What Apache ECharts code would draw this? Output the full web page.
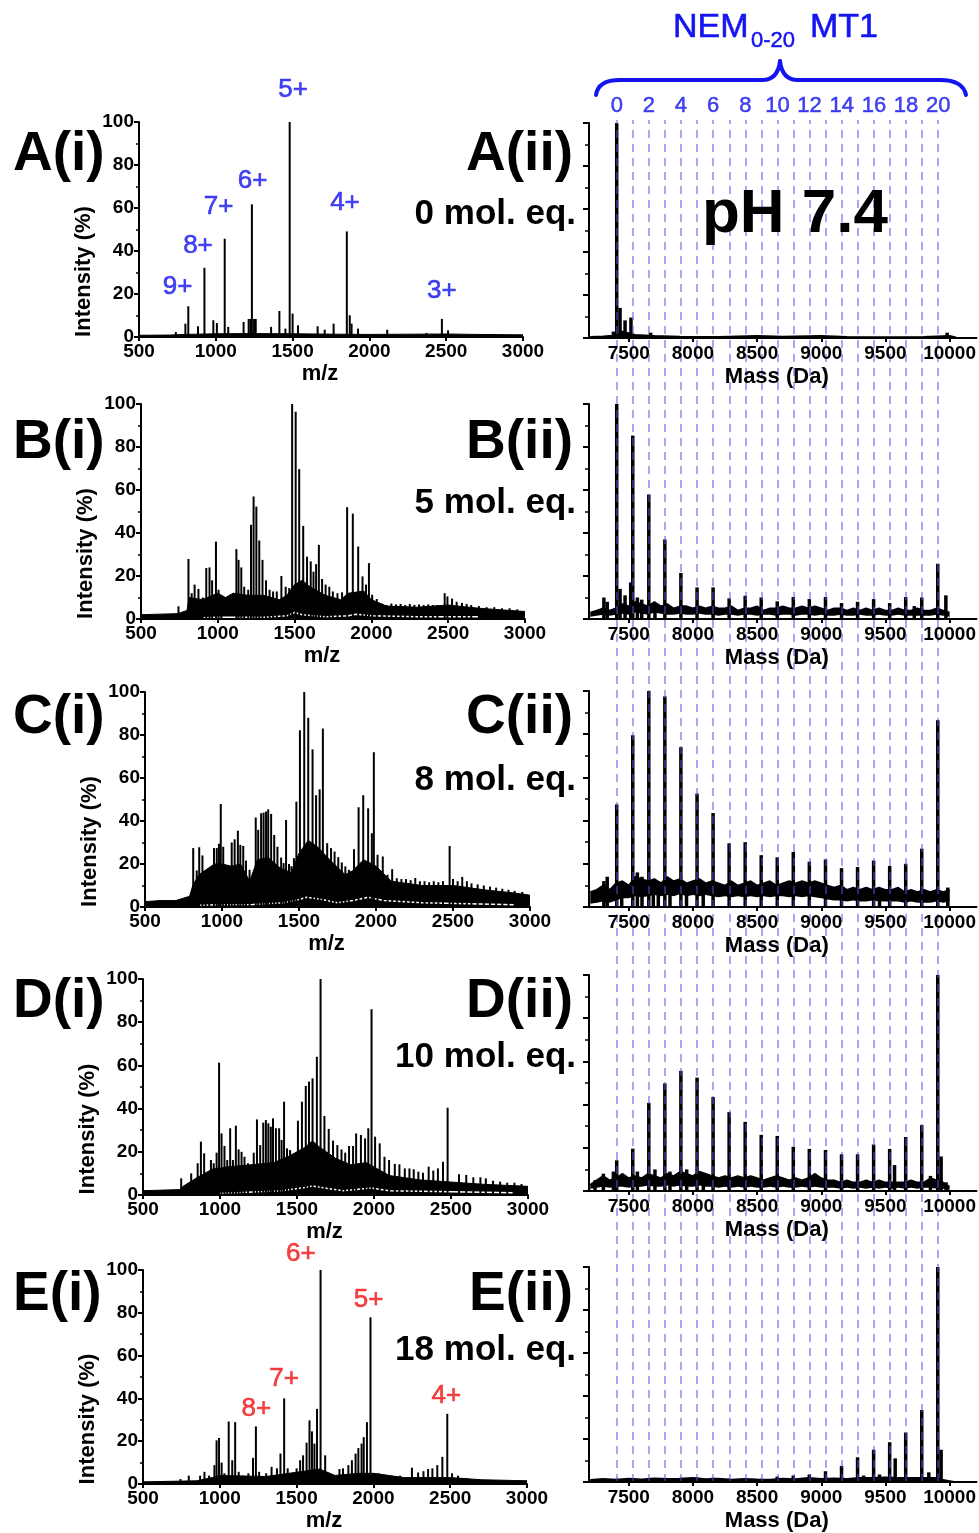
<!DOCTYPE html>
<html><head><meta charset="utf-8">
<script src="https://cdn.jsdelivr.net/npm/echarts@6/dist/echarts.min.js"></script>
<style>html,body{margin:0;padding:0;background:#fff}#c{width:979px;height:1533px}</style>
</head><body><div id="c"></div>
<script>
// ================= DATA =================
// Left column: ESI-MS m/z spectra (intensity %)
const aiPeaks = [[740,2.3],[802,6.2],[821,14.3],[884,5],[926,32.2],[984,7.8],[1007,6.5],[1058,45.7],[1081,4.7],[1181,7],[1214,8.4],[1226,8.4],[1235,61.7],[1249,8.4],[1260,8.4],[1360,4.7],[1414,12.1],[1453,3.9],[1481,100],[1500,10.9],[1535,5.4],[1663,5],[1709,3.4],[1767,6.2],[1853,49.1],[1872,10.1],[1884,6.2],[1926,3.9],[2116,3.4],[2372,1.9],[2472,8.4],[2512,3.1]];
const aiBand = [[500,0.8],[700,0.9],[800,1.2],[1000,1.5],[1200,1.6],[1500,1.5],[1800,1.3],[2000,1.2],[2500,1.4],[2700,1.2],[3000,1]];
const aiCharges = [['9+',751,23.4],['8+',884,42.5],['7+',1018,60.6],['6+',1239,72.7],['5+',1503,114.9],['4+',1841,62.5],['3+',2471,21.5]];

const biPeaks = [[744,5.9],[809,27.9],[830,12],[849,16],[874,14],[902,10],[925,23.7],[946,24],[963,18],[988,36],[1005,13.6],[1023,10.5],[1121,32.5],[1135,27.5],[1153,24],[1172,15],[1198,13.6],[1216,43.8],[1233,57],[1251,52.3],[1270,36.5],[1291,27.5],[1314,18],[1337,13.6],[1360,12.8],[1384,12.8],[1414,20],[1442,15],[1465,14.4],[1484,100],[1507,96.4],[1530,69.7],[1556,43.3],[1581,29],[1605,26.8],[1623,22],[1640,25.5],[1658,34.5],[1679,18.6],[1702,16],[1726,15],[1749,12.8],[1779,12],[1809,12.4],[1842,52],[1879,49],[1914,33.7],[1942,19.8],[1965,16],[1984,26],[2005,11.3],[2035,9.3],[2070,7],[2100,6.5],[2130,7.2],[2160,6.8],[2190,7],[2220,6.5],[2250,7],[2280,6.6],[2310,6.8],[2340,6.5],[2370,6.8],[2400,6.5],[2430,6.5],[2477,12],[2495,10.5],[2525,9.5],[2555,8],[2590,7.5],[2620,7],[2650,6.5],[2700,6],[2750,5.5],[2800,5.5],[2850,5],[2900,5],[2950,4.5]];
const biBand = [[500,2],[740,2.5],[800,4],[812,10],[900,9],[1000,12],[1050,10],[1100,12],[1200,11],[1300,11],[1400,9],[1450,11],[1500,16],[1550,18],[1600,15],[1700,11],[1800,9],[1850,12],[1950,13],[2000,9],[2100,6],[2300,5.5],[2500,6.5],[2700,5],[3000,3.5]];
const biInner = [[900,0.6],[1000,0.8],[1300,0.8],[1450,1.5],[1500,3],[1550,2],[1700,1],[1850,1.5],[1900,2.2],[2000,1.5],[2300,1],[2700,1]];

const ciPeaks = [[813,27.4],[836,17],[852,27.8],[873,24],[894,17],[917,13.4],[948,27.4],[966,27.4],[980,29.4],[992,47.9],[1008,28],[1026,18.9],[1045,15],[1063,30],[1082,31.5],[1103,35.5],[1119,28.9],[1138,28.4],[1156,21.6],[1179,17.3],[1219,41.6],[1235,35.9],[1254,43.6],[1270,43.9],[1286,44.4],[1300,45.4],[1319,43.3],[1339,33.5],[1360,28],[1384,23],[1400,20.4],[1416,40.5],[1435,20],[1451,19],[1467,22.7],[1483,49],[1506,82.2],[1534,100],[1560,88],[1588,73.3],[1611,52],[1634,54.7],[1655,83],[1683,29.7],[1708,27.4],[1731,25.8],[1755,23.2],[1778,20.7],[1801,18.9],[1824,17.3],[1857,26.9],[1887,46.4],[1917,52],[1949,45.9],[1973,34.3],[1986,72],[2010,24.3],[2044,23.5],[2075,15],[2105,17.6],[2135,13.4],[2165,13],[2195,13],[2225,12.5],[2255,13.5],[2285,12],[2315,12],[2345,11.5],[2375,12],[2405,11.5],[2435,12],[2478,28.4],[2500,13],[2530,12],[2560,14],[2590,12],[2620,11],[2660,10.5],[2700,10],[2740,9.5],[2780,9],[2820,8.5],[2860,8],[2900,7.5],[2950,7]];
const ciBand = [[500,2.5],[600,3],[700,3],[790,5],[810,10],[850,15],[950,20],[1000,20],[1060,19],[1120,20],[1180,12],[1230,22],[1300,23],[1380,18],[1450,16],[1500,25],[1560,31],[1620,28],[1700,22],[1800,15],[1850,17],[1920,22],[2000,19],[2100,12],[2300,10],[2500,10],[2700,8],[2900,6.5],[3000,5.5]];
const ciInner = [[850,0.8],[1000,1],[1200,1.2],[1400,2],[1500,3.5],[1550,4.5],[1650,3.5],[1750,2],[1850,3],[1950,4.5],[2050,3],[2300,2],[2600,1.5],[2900,1]];

const diPeaks = [[748,7.7],[778,3.9],[813,10],[839,6.2],[855,14.7],[876,24.7],[897,19.3],[922,10],[941,16.2],[959,14.7],[978,19.6],[994,61.3],[1010,28.5],[1029,22.7],[1047,16.2],[1066,30.9],[1084,16.2],[1103,32.1],[1121,21.1],[1140,20],[1159,17.7],[1182,14.7],[1219,19.6],[1240,35],[1261,23.1],[1281,33.5],[1298,34.7],[1314,33.2],[1330,31.6],[1344,35.5],[1363,30.9],[1384,30.9],[1400,25.5],[1416,43.2],[1435,21.6],[1455,20.8],[1479,19.3],[1506,34.4],[1532,43.2],[1557,50.5],[1578,52.5],[1601,54],[1629,64],[1653,100],[1678,36.6],[1706,30.6],[1734,25.2],[1762,23.1],[1789,21.1],[1813,19.6],[1838,22.7],[1864,22.7],[1884,28.5],[1915,27.8],[1942,26.2],[1963,30.9],[1984,86],[2007,27],[2037,23.9],[2068,17.7],[2098,16.2],[2135,14.4],[2165,14.2],[2200,12.3],[2230,12.3],[2258,11.9],[2288,10.8],[2318,10.3],[2355,13.1],[2385,11.3],[2415,12.3],[2448,15.4],[2478,40.4],[2552,9.6],[2599,9.3],[2645,8.2],[2691,8.2],[2726,7.7],[2773,6.6],[2819,6.2],[2865,5.7],[2912,5.7],[2958,5.1]];
const diBand = [[500,2],[740,2.5],[760,4],[850,8],[950,12],[1050,13],[1200,14],[1350,15],[1450,18],[1550,22],[1600,25],[1650,22],[1750,17],[1850,14],[1950,15],[2000,13],[2100,9],[2300,7],[2500,6],[2700,5],[3000,4]];
const diInner = [[1000,0.8],[1100,1],[1400,2],[1550,3.5],[1600,4.2],[1700,3],[1800,2],[1980,3.2],[2100,2],[2500,1.5],[2900,1]];

const eiPeaks = [[744,2.3],[798,3.9],[872,3.9],[900,5.7],[930,3.9],[965,8.8],[979,20.4],[995,21.5],[1012,10],[1030,5],[1058,29.2],[1081,11.1],[1100,28.9],[1123,5.7],[1151,3.9],[1186,5],[1216,12.2],[1235,26.9],[1256,5.7],[1302,5],[1337,8],[1372,7.3],[1395,14.2],[1419,40],[1442,7.3],[1500,7.3],[1523,11.1],[1542,13.4],[1565,19.3],[1584,29.7],[1600,24.6],[1616,18.9],[1633,35.1],[1656,100],[1686,13.4],[1779,7],[1802,7.3],[1837,8.8],[1860,11.1],[1884,14.2],[1902,16.8],[1923,18.9],[1937,21.9],[1958,28.9],[1981,77.9],[2007,5],[2035,5],[2174,3.9],[2251,7.6],[2291,5.4],[2326,6],[2356,7],[2384,7.3],[2416,8.8],[2449,12.7],[2481,32.8],[2512,5],[2551,3.9],[2616,2.6]];
const eiBand = [[500,1],[850,1.5],[950,3],[1000,4],[1300,3.5],[1450,5],[1550,6],[1650,7],[1750,4],[1900,5],[2000,5],[2200,3],[2500,3],[2700,2],[3000,1.5]];
const eiCharges = [['8+',1238,35.2],['7+',1418,49.1],['6+',1527,107.4],['5+',1969,86.1],['4+',2475,41.3]];

// Right column: deconvoluted mass spectra
const nemCounts = [0,1,2,3,4,5,6,7,8,9,10,11,12,13,14,15,16,17,18,19,20];
const nemMass = [7406,7531,7656,7781,7906,8032,8157,8282,8407,8532,8657,8782,8907,9033,9158,9283,9408,9533,9658,9783,9908];
const nemLabelCounts = [0,2,4,6,8,10,12,14,16,18,20];
const massTicks = [7500,8000,8500,9000,9500,10000];

const aiiMain = [100,1,0.8,0.6,0.5,0.5,0.5,0.5,0.6,0.8,0.6,0.5,0.6,0.8,0.5,0.4,0.4,0.4,0.4,0.4,0.5];
const aiiExtra = [[7380,3],[7432,14],[7471,8.2],[7517,9.5],[7670,2.5],[9981,2.5]];
const aiiBase = [[7200,0.6],[7300,0.8],[7380,1.2],[7450,3],[7550,1.5],[7700,1],[7900,0.7],[8200,0.6],[8500,1],[8700,0.7],[9000,1],[9200,0.6],[9500,0.5],[9800,0.6],[10000,1],[10050,0.3]];

const biiMain = [100,85.3,57.9,37,21.4,14.7,14.7,9.6,10.8,10,8.2,10.2,9.3,10.2,7.4,8,9.3,7.4,10.2,10,25.7];
const biiExtra = [[7306,10],[7332,8],[7432,14],[7471,11],[7515,17],[7567,10],[7601,9],[7704,7],[9725,6],[9971,11]];
const ciiMain = [47.5,79.5,100,97.5,74,52.5,43.5,29.5,30,24,23,25.5,21,22,18,18.5,21.5,19,20,27,86.5];
const ciiExtra = [[7306,12],[7332,14],[7445,10],[7567,16],[7603,14],[7691,13],[7730,12],[7821,11],[7950,10],[8080,9],[9454,6],[9986,9]];
const diiMain = [14.2,19.6,40.8,49.8,55.6,52.5,43.5,36.5,32,26,25.5,20.5,19.5,19,17,17,21.5,19.5,25,30.5,100];
const diiExtra = [[7237,5],[7302,8],[7380,9],[7567,9],[7704,10],[7821,9],[7951,10],[8081,8],[9571,12],[9851,7],[9934,16],[9973,4]];
const eiiMain = [1.5,1.5,1.5,1.5,2,2,2,1.5,1.5,1.5,2.5,3,3.5,5,7.5,11.5,15,18.5,23,33.5,100];
const eiiExtra = [[9330,3],[9454,3.5],[9576,11],[9838,4.5],[9934,15]];
const eiiBase = [[7200,1],[7300,1.5],[7400,1.2],[7500,1.6],[7600,1.3],[7700,1.8],[7800,1.5],[7900,1.6],[8000,2],[8100,1.4],[8200,1.6],[8300,1.2],[8400,1.5],[8500,1.3],[8600,1.2],[8700,1.6],[8800,1.4],[8900,2],[9000,1.5],[9100,1.8],[9200,1.5],[9300,2],[9400,2],[9500,2.2],[9600,2],[9700,2],[9800,2],[9900,2],[9950,1],[10000,0.5],[10030,0.2]];

// noise band sampled every 50 Da from 7200 to 10000 (upper / lower edge, %)
const bandStart = 7200, bandStep = 50;
const biiHi = [3,4,5,4,5,7,6,8,7,6,8,6,7,5,6,6,5,6,5,6,5,5,6,4,5,5,6,4,5,5,6,5,5,6,5,6,5,4,5,5,4,5,4,5,4,5,4,4,5,4,4,5,4,4,5,4,3];
const biiLo = [1,1.5,2,1.5,2,2.5,2,3,2.5,2,3,2.5,2,2,2.5,2,2,2.5,2,2,1.5,2,2,1.5,2,2,1.5,2,2,1.5,2,2,1.5,2,2,1.5,2,1.5,1.5,2,1.5,1.5,2,1.5,1.5,2,1.5,1.5,2,1.5,1.5,1.5,1.5,1.5,2,1.5,1];
const ciiHi = [7,8,10,8,11,12,10,14,13,12,13,11,14,12,13,11,12,13,11,12,11,10,12,10,11,12,10,11,12,10,11,12,11,12,11,12,11,10,9,10,8,9,8,9,8,9,8,8,9,7,8,7,8,7,8,7,8];
const ciiLo = [1.5,2,2.5,2,3,4,4,5,4.5,5,5.5,5,5.5,5,6,5,5.5,5,5.5,5,4.5,5,4.5,5,4.5,5,4.5,5,4.5,5,5,4.5,5,4.5,5,4.5,4,3.5,3,3,2.5,3,2.5,2.5,3,2.5,2.5,2.5,2.5,2,2.5,2,2,2,2.5,2,2.5];
const diiHi = [3,5,7,5,6,8,6,7,6,8,7,6,8,7,9,8,7,9,8,7,6,7,6,7,6,7,6,5,6,7,6,5,6,5,6,8,6,5,5,4,5,4,4,5,4,5,4,4,4,4,5,4,4,6,5,4,2];
const diiLo = [1,1.5,2,1.5,2,2,1.5,2,2,2.5,2,2,2.5,2,2.5,2,2,2.5,2,2,1.5,2,1.5,2,1.5,2,1.5,1.5,2,1.5,2,1.5,1.5,2,1.5,2,1.5,1.5,1.5,1,1.5,1,1.5,1,1.5,1,1.5,1,1.5,1,1.5,1,1.5,1.5,1,1,0.5];

const panelLetters = ['A','B','C','D','E'];
const molEq = ['0 mol. eq.','5 mol. eq.','8 mol. eq.','10 mol. eq.','18 mol. eq.'];

// ================= LAYOUT / STYLE =================
const FONT = "'Liberation Sans', Arial, Helvetica, sans-serif";
const BLUE = '#1414f0', RED = '#f01414';
const leftGrid = [[139,122,384,215],[141,404,384,215],[145,692,385,215],[143,979,385,216],[143,1270,384,216]];
const rightGrid = [[123,215],[404,215],[691,216],[975,216],[1267,215]];
const RL = 589, RW = 388, RMIN = 7190, RMAX = 10210;
const rowTextY = [[155,214],[443,503],[718,780],[1002,1057],[1295,1350]];

const leftData = [
  {peaks: aiPeaks, band: aiBand, inner: null, charges: aiCharges, color: BLUE},
  {peaks: biPeaks, band: biBand, inner: biInner},
  {peaks: ciPeaks, band: ciBand, inner: ciInner},
  {peaks: diPeaks, band: diBand, inner: diInner},
  {peaks: eiPeaks, band: eiBand, inner: null, charges: eiCharges, color: RED}
];
const rightData = [
  {main: aiiMain, extra: aiiExtra, base: aiiBase},
  {main: biiMain, extra: biiExtra, hi: biiHi, lo: biiLo},
  {main: ciiMain, extra: ciiExtra, hi: ciiHi, lo: ciiLo},
  {main: diiMain, extra: diiExtra, hi: diiHi, lo: diiLo},
  {main: eiiMain, extra: eiiExtra, base: eiiBase}
];

const grids = [], xAxes = [], yAxes = [], series = [];
const axLine = {lineStyle: {color: '#000', width: 2}};
const tickLbl = {color: '#000', fontFamily: FONT, fontWeight: 'bold', fontSize: 19, formatter: v => String(v)};

leftGrid.forEach((g, i) => {
  grids.push({left: g[0], top: g[1], width: g[2], height: g[3]});
  xAxes.push({type: 'value', gridIndex: i, min: 500, max: 3000, interval: 500, z: 10,
    axisLine: axLine, axisTick: {show: true, length: 4, lineStyle: {width: 2, color: '#000'}},
    axisLabel: Object.assign({margin: 5}, tickLbl), splitLine: {show: false},
    name: 'm/z', nameLocation: 'middle', nameGap: 26,
    nameTextStyle: {color: '#000', fontFamily: FONT, fontWeight: 'bold', fontSize: 22, padding: [0, 22, 0, 0]}});
  yAxes.push({type: 'value', gridIndex: i, min: 0, max: 100, interval: 20, z: 10,
    axisLine: axLine, axisTick: {show: true, length: 5, lineStyle: {width: 2, color: '#000'}},
    minorTick: {show: true, splitNumber: 2, length: 3, lineStyle: {width: 1.5, color: '#000'}},
    axisLabel: Object.assign({margin: 5}, tickLbl), splitLine: {show: false},
    name: 'Intensity (%)', nameLocation: 'middle', nameGap: 44, nameRotate: 90,
    nameTextStyle: {color: '#000', fontFamily: FONT, fontWeight: 'bold', fontSize: 22, padding: [0, 84, 0, 0]}});
  const d = leftData[i];
  series.push({type: 'line', xAxisIndex: i, yAxisIndex: i, data: d.band, symbol: 'none', silent: true,
    lineStyle: {color: '#000', width: 1}, areaStyle: {color: '#000', opacity: 1}, z: 2});
  if (d.inner) series.push({type: 'line', xAxisIndex: i, yAxisIndex: i, data: d.inner, symbol: 'none', silent: true,
    lineStyle: {color: '#fff', width: 1.5}, z: 3});
  series.push({type: 'bar', xAxisIndex: i, yAxisIndex: i, data: d.peaks, barWidth: 2, silent: true,
    itemStyle: {color: '#000'}, z: 4});
  if (d.charges) series.push({type: 'scatter', xAxisIndex: i, yAxisIndex: i, clip: false, silent: true,
    data: d.charges.map(c => [c[1], c[2], c[0]]), symbolSize: 0, itemStyle: {color: d.color},
    label: {show: true, position: 'inside', formatter: p => p.data[2], color: d.color, fontFamily: FONT, fontSize: 26,
      textBorderColor: d.color, textBorderWidth: 0.6}, z: 6});
});

rightGrid.forEach((g, k) => {
  const i = k + 5;
  grids.push({left: RL, top: g[0], width: RW, height: g[1]});
  xAxes.push({type: 'value', gridIndex: i, min: RMIN, max: RMAX, z: 10,
    axisLine: axLine, axisTick: {show: true, length: 4, customValues: massTicks, lineStyle: {width: 2, color: '#000'}},
    axisLabel: Object.assign({}, tickLbl, {margin: 6, customValues: massTicks}), splitLine: {show: false},
    name: 'Mass (Da)', nameLocation: 'middle', nameGap: 28,
    nameTextStyle: {color: '#000', fontFamily: FONT, fontWeight: 'bold', fontSize: 22, padding: [0, 12, 0, 0]}});
  yAxes.push({type: 'value', gridIndex: i, min: 0, max: 100, interval: 20, z: 10,
    axisLine: axLine, axisTick: {show: true, length: 6, lineStyle: {width: 2, color: '#000'}},
    minorTick: {show: true, splitNumber: 2, length: 4, lineStyle: {width: 1.5, color: '#000'}},
    axisLabel: {show: false}, splitLine: {show: false}});
  const d = rightData[k];
  if (d.base) {
    series.push({type: 'line', xAxisIndex: i, yAxisIndex: i, data: d.base, symbol: 'none', silent: true,
      lineStyle: {color: '#000', width: 1.5}, areaStyle: {color: '#000', opacity: 1}, z: 2});
  } else {
    // noise band: black fill up to upper edge, white fill up to lower edge on top of it
    const xs = d.hi.map((_, j) => bandStart + j * bandStep);
    series.push({type: 'line', xAxisIndex: i, yAxisIndex: i, symbol: 'none', silent: true,
      data: xs.map((x, j) => [x, d.hi[j]]), lineStyle: {color: '#000', width: 1.5},
      areaStyle: {color: '#000', opacity: 1}, z: 2});
    series.push({type: 'line', xAxisIndex: i, yAxisIndex: i, symbol: 'none', silent: true,
      data: xs.map((x, j) => [x, d.lo[j]]), lineStyle: {color: '#fff', width: 0},
      areaStyle: {color: '#fff', opacity: 1}, z: 3});
  }
  const pk = nemMass.map((m, j) => [m, d.main[j]]).concat(d.extra);
  series.push({type: 'bar', xAxisIndex: i, yAxisIndex: i, data: pk, barWidth: 3.5, silent: true,
    itemStyle: {color: '#000'}, z: 4});
});

// overlay grid with dashed NEM guide lines
grids.push({left: RL, top: 120, width: RW, height: 1362});
xAxes.push({type: 'value', gridIndex: 10, min: RMIN, max: RMAX, show: false});
yAxes.push({type: 'value', gridIndex: 10, min: 0, max: 1, show: false});
series.push({type: 'scatter', xAxisIndex: 10, yAxisIndex: 10, silent: true, clip: false,
  data: nemLabelCounts.map(n => [nemMass[nemCounts.indexOf(n)], 1, String(n)]),
  symbolSize: 0, itemStyle: {color: BLUE},
  label: {show: true, position: 'top', distance: 3, formatter: p => p.data[2], color: BLUE, fontFamily: FONT, fontSize: 22,
    textBorderColor: BLUE, textBorderWidth: 0.5},
  markLine: {silent: true, symbol: ['none', 'none'], label: {show: false},
    lineStyle: {color: 'rgba(80,80,230,0.5)', width: 2, type: [8, 6]},
    data: nemMass.map(m => ({xAxis: m}))},
  z: 8});

// ================= TEXT =================
function txt(text, x, y, size, opts) {
  opts = opts || {};
  const st = {text: text, fill: opts.fill || '#000', font: (opts.weight || 'bold') + ' ' + size + 'px ' + FONT,
    align: opts.align || 'left', verticalAlign: 'middle', textAlign: opts.align || 'left', textVerticalAlign: 'middle'};
  if (opts.stroke) { st.stroke = opts.fill; st.lineWidth = opts.stroke; }
  return {type: 'text', x: x, y: y, z: 100, silent: true, style: st};
}
const graphics = [];
panelLetters.forEach((L, i) => {
  graphics.push(txt(L + '(i)', 13, rowTextY[i][0], 55));
  graphics.push(txt(L + '(ii)', 573, rowTextY[i][0], 55, {align: 'right'}));
  graphics.push(txt(molEq[i], 576, rowTextY[i][1], 35, {align: 'right'}));
});
graphics.push(txt('pH 7.4', 795, 215, 62, {align: 'center'}));
graphics.push(txt('NEM', 673, 28, 34, {fill: BLUE, weight: 'normal', stroke: 0.6}));
graphics.push(txt('0-20', 751, 41, 22, {fill: BLUE, weight: 'normal', stroke: 0.5}));
graphics.push(txt('MT1', 810, 28, 34, {fill: BLUE, weight: 'normal', stroke: 0.6}));
// curly brace above the NEM scale
const braceStyle = {stroke: BLUE, lineWidth: 4, fill: null, lineCap: 'round'};
[
  {type: 'bezierCurve', shape: {x1: 596, y1: 95, cpx1: 598, cpy1: 80, x2: 620, y2: 80}},
  {type: 'line', shape: {x1: 620, y1: 80, x2: 762, y2: 80}},
  {type: 'bezierCurve', shape: {x1: 762, y1: 80, cpx1: 778, cpy1: 80, x2: 780, y2: 61}},
  {type: 'bezierCurve', shape: {x1: 780, y1: 61, cpx1: 782, cpy1: 80, x2: 798, y2: 80}},
  {type: 'line', shape: {x1: 798, y1: 80, x2: 940, y2: 80}},
  {type: 'bezierCurve', shape: {x1: 940, y1: 80, cpx1: 963, cpy1: 80, x2: 966, y2: 95}}
].forEach(e => { e.z = 100; e.silent = true; e.style = braceStyle; graphics.push(e); });

const chart = echarts.init(document.getElementById('c'), null, {renderer: 'canvas'});
chart.setOption({animation: false, backgroundColor: '#fff', grid: grids, xAxis: xAxes, yAxis: yAxes, series: series, graphic: graphics});
</script></body></html>
